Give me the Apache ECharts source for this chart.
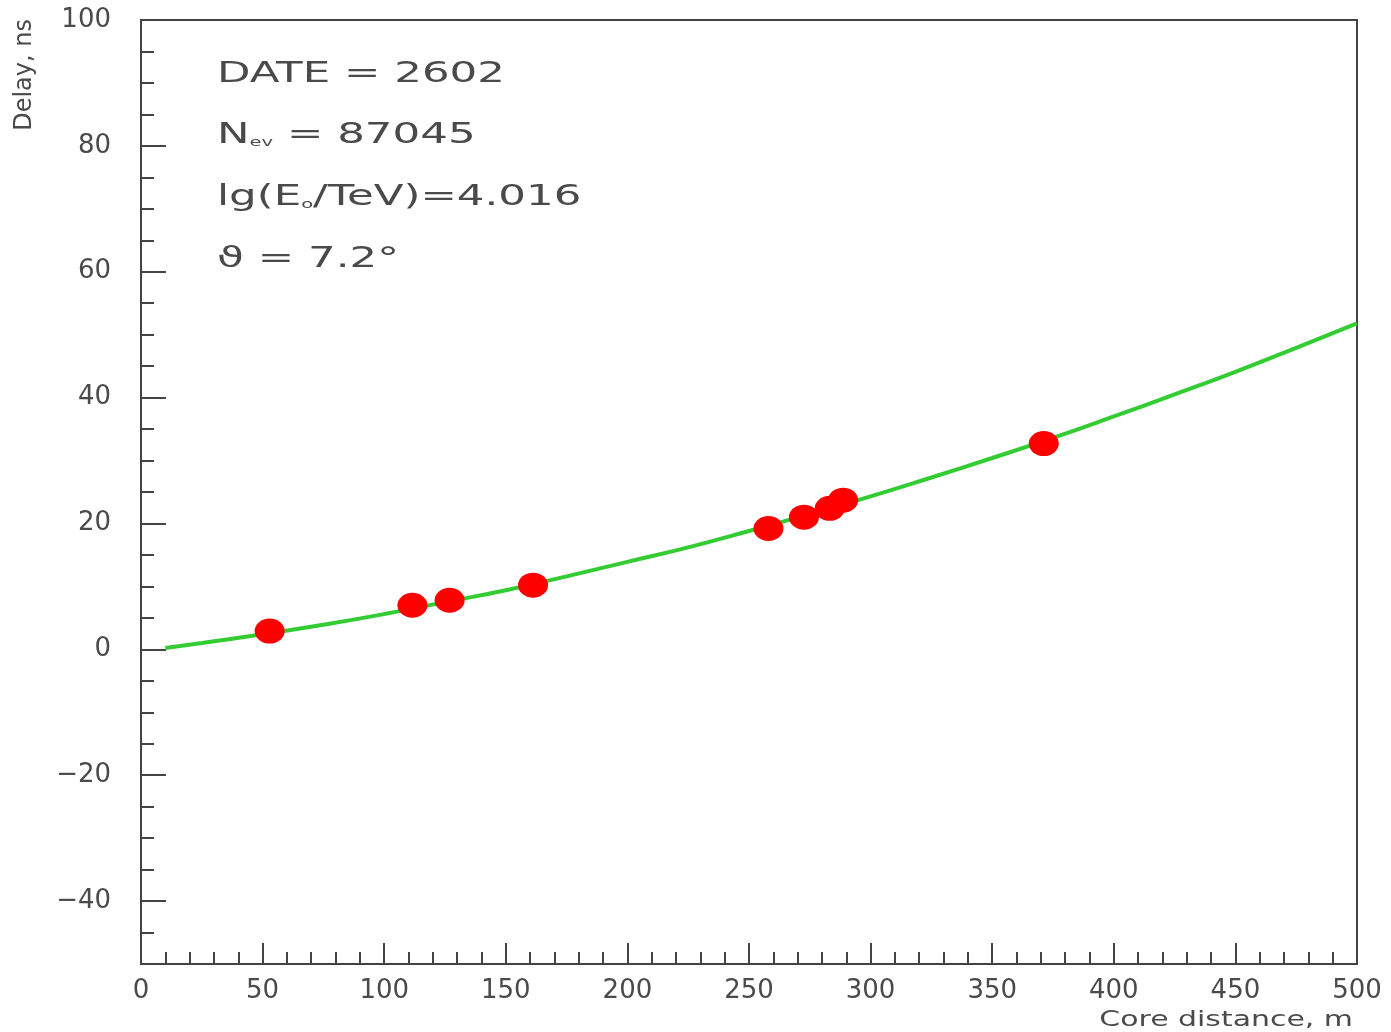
<!DOCTYPE html>
<html>
<head>
<meta charset="utf-8">
<script src="https://cdn.jsdelivr.net/npm/echarts@6/dist/echarts.min.js"></script>
<style>html,body{margin:0;padding:0;background:#fff}#chart{width:1391px;height:1032px}</style>
</head>
<body>
<div id="chart"></div>
<script>
// Measured detector points
const pointX = [52.9, 111.6, 126.9, 161.2, 258.0, 272.6, 283.2, 288.7, 371.2];
const pointY = [2.9, 7.0, 7.8, 10.2, 19.2, 21.0, 22.4, 23.7, 32.7];
// Fitted curve
const fitX = [10, 25, 50, 75, 100, 125, 150, 175, 200, 225, 250, 275, 300, 325, 350, 375, 400, 425, 450, 475, 500];
const fitY = [0.2, 1.0, 2.4, 3.9, 5.6, 7.5, 9.4, 11.6, 13.9, 16.2, 18.8, 21.5, 24.3, 27.3, 30.4, 33.6, 37.0, 40.5, 44.1, 47.9, 51.8];
// Axis ticks
const yMajorTicks = [-40, -20, 0, 20, 40, 60, 80, 100];
const xMajorTicks = [0, 50, 100, 150, 200, 250, 300, 350, 400, 450, 500];
// Annotation texts
const infoDate = 'DATE = 2602';
const infoNev = 'N{sub|ev} = 87045';
const infoEnergy = 'lg(E{sub|o}/TeV)=4.016';
const infoTheta = 'ϑ = 7.2°';
const xName = 'Core distance, m';
const yName = 'Delay, ns';

const FONT = 'DejaVu Sans';
const TXT = '#4a4a4a';
const AX = '#444';

const chart = echarts.init(document.getElementById('chart'), null, {renderer: 'canvas'});

const infoStyle = (text, y) => ({
  type: 'text', x: 217, y: y, scaleX: 1.5, z: 10,
  style: {
    text: text, fontFamily: FONT, fontSize: 29, fill: TXT,
    align: 'left', verticalAlign: 'middle',
    rich: { sub: { fontSize: 13, fontFamily: FONT, fill: TXT, verticalAlign: 'bottom', padding: [14, 0, 0, 0] } }
  }
});

chart.setOption({
  animation: false,
  backgroundColor: '#fff',
  grid: { left: 141, right: 34, top: 20, bottom: 68, show: true, borderColor: AX, borderWidth: 2, backgroundColor: 'transparent' },
  xAxis: [
    { type: 'value', min: 0, max: 500, interval: 50, position: 'bottom',
      axisLine: { show: true, onZero: false, lineStyle: { color: AX, width: 2 } },
      axisTick: { show: true, inside: true, length: 21, lineStyle: { color: AX, width: 2 } },
      axisLabel: { show: true, margin: 14, fontFamily: FONT, fontSize: 26, color: TXT },
      splitLine: { show: false } },
    { type: 'value', min: 0, max: 500, interval: 10, position: 'bottom',
      axisLine: { show: false, onZero: false },
      axisTick: { show: true, inside: true, length: 12, lineStyle: { color: AX, width: 2 } },
      axisLabel: { show: false }, splitLine: { show: false } }
  ],
  yAxis: [
    { type: 'value', min: -50, max: 100, position: 'left',
      axisLine: { show: true, onZero: false, lineStyle: { color: AX, width: 2 } },
      axisTick: { show: true, inside: true, length: 25, customValues: yMajorTicks, lineStyle: { color: AX, width: 2 } },
      axisLabel: { show: true, customValues: yMajorTicks, margin: 30, fontFamily: FONT, fontSize: 26, color: TXT,
        formatter: v => (v < 0 ? '\u2212' + Math.abs(v) : String(v)) },
      splitLine: { show: false } },
    { type: 'value', min: -50, max: 100, interval: 5, position: 'left',
      axisLine: { show: false, onZero: false },
      axisTick: { show: true, inside: true, length: 13, lineStyle: { color: AX, width: 2 } },
      axisLabel: { show: false }, splitLine: { show: false } }
  ],
  graphic: [
    infoStyle(infoDate, 74),
    infoStyle(infoNev, 135),
    infoStyle(infoEnergy, 197),
    infoStyle(infoTheta, 259),
    { type: 'text', x: 1353, y: 1020, scaleX: 1.36, z: 10,
      style: { text: xName, fontFamily: FONT, fontSize: 22, fill: TXT, align: 'right', verticalAlign: 'middle' } },
    { type: 'text', x: 25, y: 19, rotation: Math.PI / 2, z: 10,
      style: { text: yName, fontFamily: FONT, fontSize: 24, fill: TXT, align: 'right', verticalAlign: 'middle' } }
  ],
  series: [
    { type: 'line', xAxisIndex: 0, yAxisIndex: 0, smooth: true, symbol: 'none',
      lineStyle: { color: '#33cc33', width: 4 },
      data: fitX.map((x, i) => [x, fitY[i]]), z: 2 },
    { type: 'scatter', xAxisIndex: 0, yAxisIndex: 0, symbol: 'circle', symbolSize: [30, 25],
      itemStyle: { color: '#ff0000', opacity: 1 },
      data: pointX.map((x, i) => [x, pointY[i]]), z: 3 }
  ]
});
</script>
</body>
</html>
